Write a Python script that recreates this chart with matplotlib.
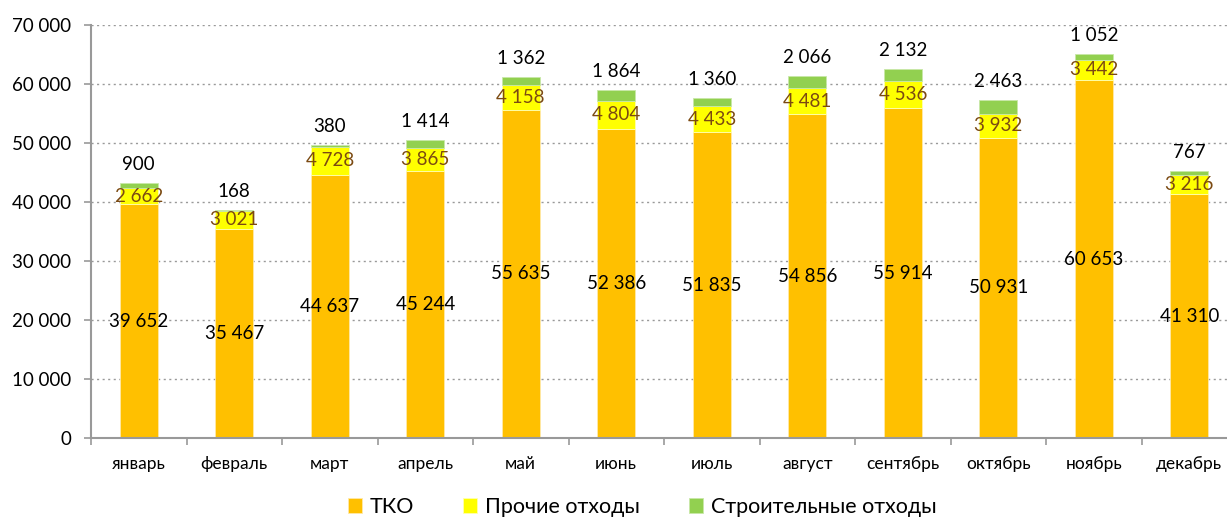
import matplotlib
matplotlib.use("Agg")
import matplotlib.pyplot as plt
import numpy as np
from matplotlib.ticker import FuncFormatter, MultipleLocator, FixedLocator

plt.rcParams['font.family'] = ['Lato', 'DejaVu Sans']

months = ["январь", "февраль", "март", "апрель", "май", "июнь", "июль",
          "август", "сентябрь", "октябрь", "ноябрь", "декабрь"]
tko = [39652, 35467, 44637, 45244, 55635, 52386, 51835, 54856, 55914, 50931, 60653, 41310]
other = [2662, 3021, 4728, 3865, 4158, 4804, 4433, 4481, 4536, 3932, 3442, 3216]
constr = [900, 168, 380, 1414, 1362, 1864, 1360, 2066, 2132, 2463, 1052, 767]
series_names = ["ТКО", "Прочие отходы", "Строительные отходы"]
colors = ["#FFC000", "#FFFF00", "#92D050"]

def fmt(v):
    return f"{int(v):,}".replace(",", " ")

fig = plt.figure(figsize=(12.27, 5.18), dpi=100)
ax = fig.add_axes([91/1227, 80/518, 1146/1227, 413/518])

x = np.arange(len(months))
w = 0.4
b1 = ax.bar(x, tko, w, color=colors[0], label=series_names[0], edgecolor="#FFE9A8", linewidth=0.6)
b2 = ax.bar(x, other, w, bottom=tko, color=colors[1], label=series_names[1], edgecolor="#FFFFB0", linewidth=0.6)
bottom3 = np.array(tko) + np.array(other)
b3 = ax.bar(x, constr, w, bottom=bottom3, color=colors[2], label=series_names[2], edgecolor="#C8E8A8", linewidth=0.6)

ax.bar_label(b1, labels=[fmt(v) for v in tko], label_type='center', fontsize=13.5, color="black")
ax.bar_label(b2, labels=[fmt(v) for v in other], label_type='center', fontsize=13.5, color="#7B4A12")
ax.bar_label(b3, labels=[fmt(v) for v in constr], label_type='edge', padding=7, fontsize=13.5, color="black")

ax.set_xlim(-0.5, 11.5)
ax.set_ylim(0, 70000)
ax.yaxis.set_major_locator(MultipleLocator(10000))
ax.yaxis.set_major_formatter(FuncFormatter(lambda v, p: fmt(v)))
ax.grid(axis='y', linestyle=(0, (1.5, 2.5)), color="#999999", linewidth=1.0)
ax.set_axisbelow(True)

ax.set_xticks(x)
ax.set_xticklabels(months, fontsize=12.5)
ax.tick_params(axis='x', which='major', length=0, pad=13)
ax.xaxis.set_minor_locator(FixedLocator(np.arange(-0.5, 12, 1)))
ax.tick_params(axis='x', which='minor', length=5, color="#999999", width=1.2)
ax.tick_params(axis='y', labelsize=13.5, length=5, color="#999999", width=1.2, pad=9)

for s in ['top', 'right']:
    ax.spines[s].set_visible(False)
for s in ['left', 'bottom']:
    ax.spines[s].set_color("#999999")
    ax.spines[s].set_linewidth(1.5)

fig.legend(handles=[b1, b2, b3], labels=series_names, loc='center', bbox_to_anchor=(642/1227, 1 - 507/518),
           ncol=3, frameon=False, fontsize=15.5, handlelength=0.65, handleheight=0.65,
           handletextpad=0.35, columnspacing=2.3)

fig.savefig("out.png", dpi=100)
